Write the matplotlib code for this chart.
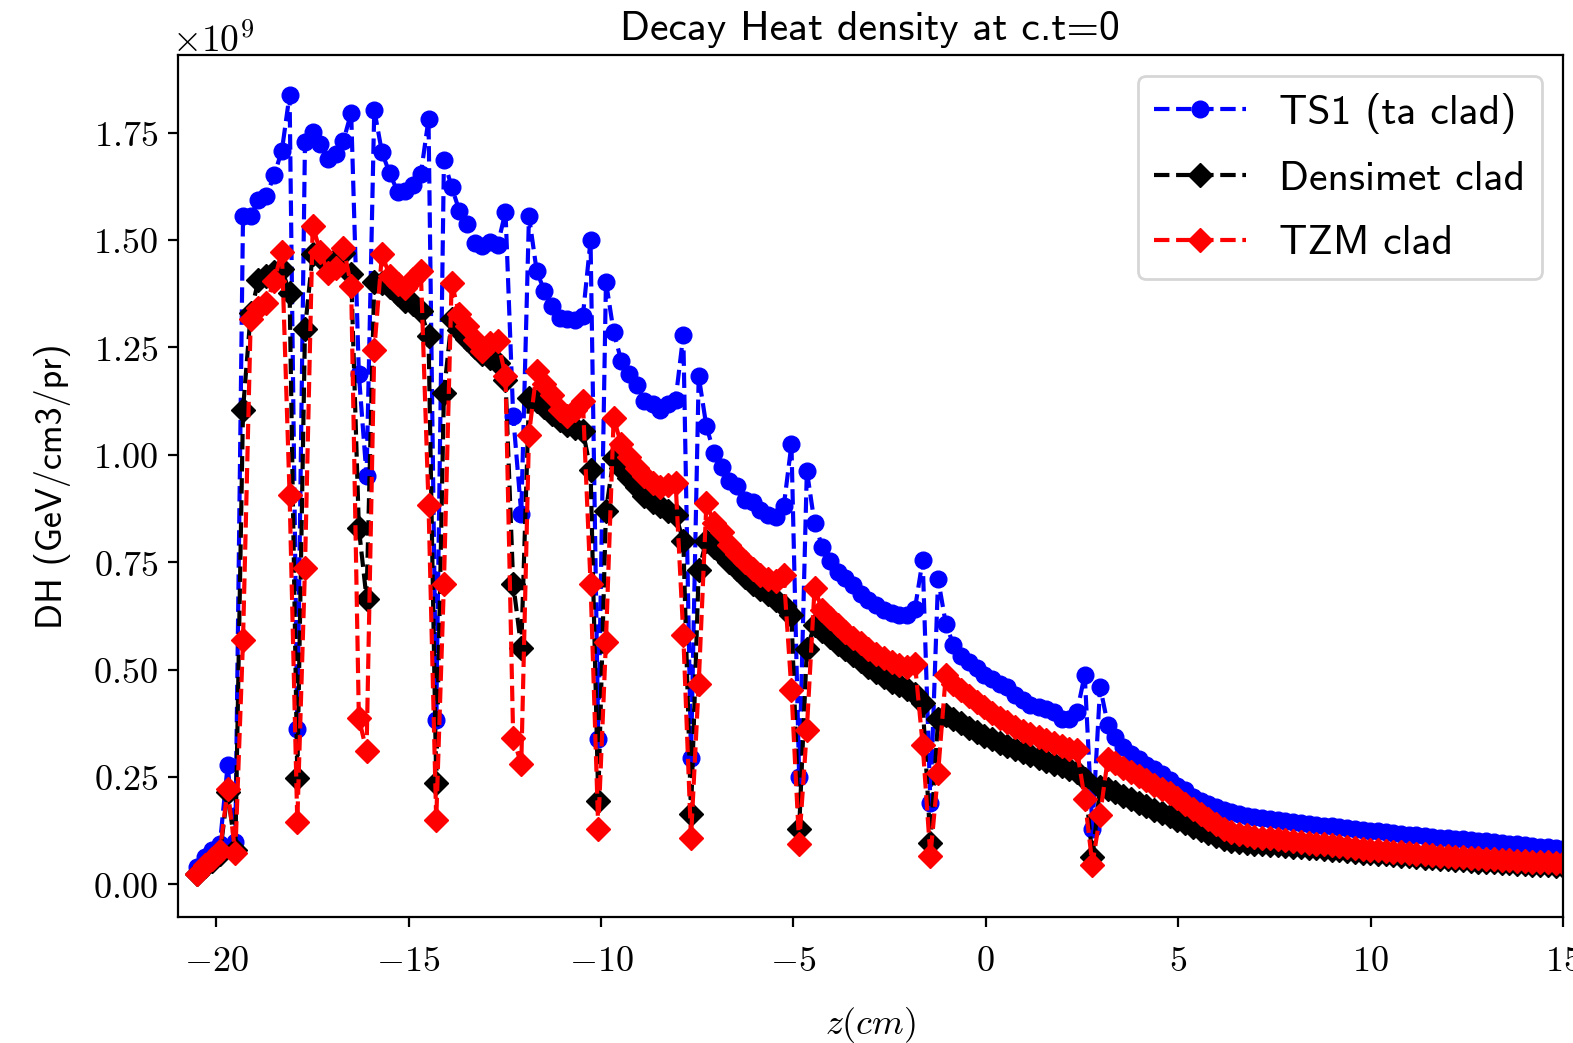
import matplotlib
matplotlib.use("Agg")
import matplotlib.pyplot as plt
from matplotlib.ticker import FixedLocator, FuncFormatter

plt.rcParams["mathtext.fontset"] = "cm"

# Longitudinal bin centres (cm)
z_cm = [
    -20.50, -20.30, -20.10, -19.90, -19.70, -19.50, -19.30, -19.10, -18.90, -18.69,
    -18.49, -18.29, -18.09, -17.89, -17.69, -17.49, -17.29, -17.09, -16.89, -16.69,
    -16.49, -16.29, -16.09, -15.89, -15.69, -15.49, -15.28, -15.08, -14.88, -14.68,
    -14.48, -14.28, -14.08, -13.88, -13.68, -13.48, -13.28, -13.08, -12.88, -12.68,
    -12.48, -12.28, -12.07, -11.87, -11.67, -11.47, -11.27, -11.07, -10.87, -10.67,
    -10.47, -10.27, -10.07, -9.87, -9.67, -9.47, -9.27, -9.07, -8.87, -8.66,
    -8.46, -8.26, -8.06, -7.86, -7.66, -7.46, -7.26, -7.06, -6.86, -6.66,
    -6.46, -6.26, -6.06, -5.86, -5.66, -5.45, -5.25, -5.05, -4.85, -4.65,
    -4.45, -4.25, -4.05, -3.85, -3.65, -3.45, -3.25, -3.05, -2.85, -2.65,
    -2.45, -2.25, -2.04, -1.84, -1.64, -1.44, -1.24, -1.04, -0.84, -0.64,
    -0.44, -0.24, -0.04, 0.16, 0.36, 0.56, 0.76, 0.96, 1.16, 1.37,
    1.57, 1.77, 1.97, 2.17, 2.37, 2.57, 2.77, 2.97, 3.17, 3.37,
    3.57, 3.77, 3.97, 4.17, 4.37, 4.58, 4.78, 4.98, 5.18, 5.38,
    5.58, 5.78, 5.98, 6.18, 6.38, 6.58, 6.78, 6.98, 7.18, 7.38,
    7.58, 7.78, 7.99, 8.19, 8.39, 8.59, 8.79, 8.99, 9.19, 9.39,
    9.59, 9.79, 9.99, 10.19, 10.39, 10.59, 10.79, 10.99, 11.19, 11.40,
    11.60, 11.80, 12.00, 12.20, 12.40, 12.60, 12.80, 13.00, 13.20, 13.40,
    13.60, 13.80, 14.00, 14.20, 14.40, 14.61, 14.81, 15.01,
]

# Decay heat density, in units of 1e9 GeV/cm3/pr
dh_ts1_ta = [
    0.040, 0.063, 0.080, 0.094, 0.277, 0.098, 1.556, 1.556, 1.593, 1.603,
    1.651, 1.708, 1.838, 0.362, 1.729, 1.751, 1.723, 1.688, 1.699, 1.731,
    1.796, 1.187, 0.950, 1.803, 1.704, 1.655, 1.612, 1.615, 1.628, 1.653,
    1.781, 0.383, 1.685, 1.624, 1.568, 1.538, 1.492, 1.486, 1.494, 1.489,
    1.566, 1.090, 0.863, 1.556, 1.428, 1.381, 1.346, 1.319, 1.315, 1.313,
    1.323, 1.499, 0.338, 1.403, 1.286, 1.218, 1.187, 1.162, 1.125, 1.118,
    1.105, 1.117, 1.128, 1.279, 0.294, 1.183, 1.066, 1.004, 0.971, 0.938,
    0.928, 0.895, 0.891, 0.872, 0.860, 0.856, 0.880, 1.024, 0.250, 0.963,
    0.841, 0.786, 0.753, 0.728, 0.712, 0.697, 0.677, 0.662, 0.650, 0.638,
    0.631, 0.627, 0.628, 0.642, 0.755, 0.190, 0.711, 0.607, 0.557, 0.532,
    0.518, 0.504, 0.488, 0.479, 0.467, 0.459, 0.440, 0.429, 0.417, 0.413,
    0.409, 0.401, 0.386, 0.386, 0.401, 0.488, 0.130, 0.460, 0.372, 0.343,
    0.320, 0.304, 0.292, 0.277, 0.269, 0.257, 0.242, 0.230, 0.219, 0.203,
    0.195, 0.187, 0.180, 0.174, 0.169, 0.164, 0.160, 0.157, 0.154, 0.151,
    0.149, 0.147, 0.145, 0.143, 0.141, 0.139, 0.137, 0.135, 0.133, 0.131,
    0.129, 0.127, 0.125, 0.124, 0.122, 0.120, 0.118, 0.116, 0.114, 0.112,
    0.111, 0.109, 0.108, 0.106, 0.105, 0.103, 0.102, 0.100, 0.099, 0.097,
    0.095, 0.093, 0.092, 0.090, 0.088, 0.086, 0.085, 0.083,
]

dh_densimet = [
    0.025, 0.042, 0.055, 0.070, 0.215, 0.080, 1.105, 1.330, 1.406, 1.415,
    1.425, 1.432, 1.377, 0.247, 1.292, 1.467, 1.460, 1.447, 1.455, 1.470,
    1.420, 0.829, 0.665, 1.401, 1.400, 1.390, 1.375, 1.358, 1.350, 1.335,
    1.276, 0.236, 1.144, 1.315, 1.290, 1.270, 1.250, 1.235, 1.225, 1.214,
    1.175, 0.700, 0.550, 1.131, 1.125, 1.110, 1.095, 1.080, 1.070, 1.062,
    1.055, 0.965, 0.195, 0.870, 0.992, 0.970, 0.945, 0.925, 0.905, 0.890,
    0.880, 0.870, 0.860, 0.800, 0.163, 0.731, 0.800, 0.785, 0.770, 0.750,
    0.735, 0.715, 0.700, 0.688, 0.675, 0.662, 0.648, 0.627, 0.128, 0.548,
    0.603, 0.590, 0.575, 0.560, 0.548, 0.535, 0.520, 0.507, 0.495, 0.482,
    0.472, 0.465, 0.455, 0.442, 0.423, 0.096, 0.384, 0.395, 0.385, 0.375,
    0.365, 0.355, 0.346, 0.338, 0.330, 0.322, 0.315, 0.308, 0.300, 0.294,
    0.288, 0.281, 0.275, 0.268, 0.262, 0.246, 0.063, 0.226, 0.222, 0.214,
    0.206, 0.198, 0.190, 0.182, 0.174, 0.166, 0.158, 0.150, 0.142, 0.134,
    0.126, 0.119, 0.112, 0.106, 0.102, 0.099, 0.097, 0.095, 0.094, 0.092,
    0.091, 0.090, 0.088, 0.087, 0.085, 0.084, 0.082, 0.081, 0.079, 0.077,
    0.076, 0.074, 0.073, 0.071, 0.070, 0.068, 0.067, 0.065, 0.064, 0.062,
    0.061, 0.060, 0.058, 0.057, 0.056, 0.055, 0.053, 0.052, 0.051, 0.050,
    0.049, 0.048, 0.047, 0.046, 0.045, 0.044, 0.043, 0.042,
]

dh_tzm = [
    0.025, 0.045, 0.058, 0.078, 0.222, 0.072, 0.569, 1.315, 1.342, 1.354,
    1.405, 1.473, 0.907, 0.145, 0.737, 1.533, 1.472, 1.424, 1.435, 1.482,
    1.393, 0.387, 0.310, 1.243, 1.467, 1.416, 1.397, 1.389, 1.410, 1.428,
    0.884, 0.149, 0.700, 1.400, 1.327, 1.300, 1.268, 1.241, 1.261, 1.265,
    1.183, 0.340, 0.280, 1.047, 1.195, 1.164, 1.140, 1.105, 1.090, 1.105,
    1.125, 0.700, 0.130, 0.565, 1.085, 1.024, 0.995, 0.970, 0.950, 0.935,
    0.925, 0.930, 0.935, 0.580, 0.108, 0.467, 0.887, 0.841, 0.820, 0.790,
    0.770, 0.750, 0.735, 0.720, 0.710, 0.705, 0.720, 0.452, 0.094, 0.360,
    0.689, 0.639, 0.620, 0.603, 0.588, 0.574, 0.561, 0.548, 0.537, 0.527,
    0.518, 0.510, 0.505, 0.513, 0.325, 0.066, 0.259, 0.487, 0.467, 0.452,
    0.438, 0.425, 0.412, 0.400, 0.388, 0.377, 0.367, 0.358, 0.350, 0.342,
    0.335, 0.328, 0.321, 0.316, 0.312, 0.199, 0.046, 0.162, 0.292, 0.282,
    0.272, 0.262, 0.252, 0.242, 0.232, 0.222, 0.212, 0.200, 0.188, 0.176,
    0.164, 0.152, 0.140, 0.130, 0.122, 0.117, 0.114, 0.111, 0.109, 0.107,
    0.105, 0.103, 0.101, 0.099, 0.097, 0.095, 0.093, 0.091, 0.089, 0.087,
    0.085, 0.083, 0.081, 0.080, 0.078, 0.076, 0.075, 0.073, 0.071, 0.070,
    0.068, 0.067, 0.066, 0.064, 0.063, 0.062, 0.061, 0.060, 0.058, 0.057,
    0.056, 0.055, 0.054, 0.053, 0.052, 0.051, 0.050, 0.049,
]

series_labels = ["TS1 (ta clad)", "Densimet clad", "TZM clad"]
x_ticks = [-20, -15, -10, -5, 0, 5, 10, 15]
y_ticks = [0.00, 0.25, 0.50, 0.75, 1.00, 1.25, 1.50, 1.75]

SANS = "cmss10"

fig = plt.figure(figsize=(15.73, 10.43), dpi=100)
ax = fig.add_axes([0.1129, 0.1212, 0.8808, 0.8259])

ax.plot(z_cm, dh_ts1_ta, linestyle="--", color="b", marker="o",
        markersize=12, linewidth=3, label=series_labels[0])
ax.plot(z_cm, dh_densimet, linestyle="--", color="k", marker="D",
        markersize=12, linewidth=3, label=series_labels[1])
ax.plot(z_cm, dh_tzm, linestyle="--", color="r", marker="D",
        markersize=12, linewidth=3, label=series_labels[2])

ax.set_xlim(-21, 15)
ax.set_ylim(-0.075, 1.93)

ax.xaxis.set_major_locator(FixedLocator(x_ticks))
ax.yaxis.set_major_locator(FixedLocator(y_ticks))
ax.xaxis.set_major_formatter(FuncFormatter(lambda v, p: r"$\mathrm{%d}$" % round(v)))
ax.yaxis.set_major_formatter(FuncFormatter(lambda v, p: r"$\mathrm{%.2f}$" % v))
ax.tick_params(axis="both", which="major", labelsize=26, length=7, width=1.6)
ax.tick_params(axis="x", pad=13)
ax.tick_params(axis="y", pad=7)
for sp in ax.spines.values():
    sp.set_linewidth(1.6)

ax.text(-0.004, 0.994, r"$\times10^{9}$", transform=ax.transAxes,
        ha="left", va="bottom", fontsize=27)

ax.set_title("Decay Heat density at c.t=0", family=SANS, fontsize=30, pad=11)
ax.set_ylabel("DH (GeV/cm3/pr)", family=SANS, fontsize=26)
ax.yaxis.set_label_coords(-0.077, 0.5)
ax.set_xlabel(r"$z(cm)$", fontsize=26)
ax.xaxis.set_label_coords(0.5, -0.103)

leg = ax.legend(loc="upper right", prop={"family": SANS, "size": 30},
                labelspacing=0.65, handlelength=2.2)
leg.get_frame().set_linewidth(2)

fig.savefig("out.png", dpi=100)
